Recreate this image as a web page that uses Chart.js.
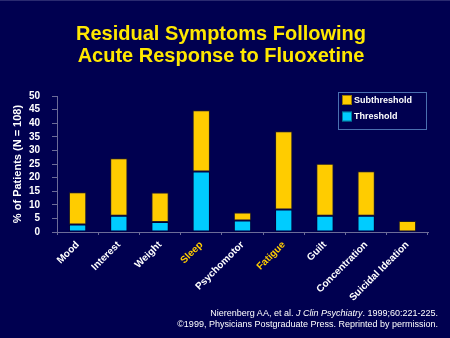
<!DOCTYPE html>
<html>
<head>
<meta charset="utf-8">
<script src="https://cdn.jsdelivr.net/npm/chart.js@4.4.1/dist/chart.umd.min.js"></script>
<style>
  html, body { margin: 0; padding: 0; background: #000050; }
  #wrap { position: relative; width: 450px; height: 338px; overflow: hidden; background: #000050; border-top: 1px solid #2a2a70; box-sizing: border-box; }
  #title { position: absolute; left: 0; width: 442px; top: 22px; text-align: center; color: #FFE800;
           font: bold 20px Arial, "Liberation Sans", sans-serif; line-height: 21.5px; }
  #footer { position: absolute; right: 12px; top: 307px; text-align: right; color: #ffffff;
            font: 9px Arial, "Liberation Sans", sans-serif; line-height: 11px; }
  canvas { position: absolute; left: 0; top: 0; }
</style>
</head>
<body>
<div id="wrap">
  <canvas id="c" width="450" height="338"></canvas>
  <div id="title">Residual Symptoms Following<br>Acute Response to Fluoxetine</div>
  <div id="footer">Nierenberg AA, et al. <i>J Clin Psychiatry</i>. 1999;60:221-225.<br>©1999, Physicians Postgraduate Press. Reprinted by permission.</div>
</div>
<script>
const categories = ['Mood', 'Interest', 'Weight', 'Sleep', 'Psychomotor', 'Fatigue', 'Guilt', 'Concentration', 'Suicidal Ideation'];
const highlighted = ['Sleep', 'Fatigue'];
const threshold = [2.8, 6.0, 3.7, 22.2, 4.2, 8.3, 6.0, 6.0, 0];
const subthreshold = [11.8, 21.1, 10.8, 22.6, 3.0, 28.7, 19.1, 16.3, 4.0];
const yTicks = [0, 5, 10, 15, 20, 25, 30, 35, 40, 45, 50];
const seriesNames = ['Threshold', 'Subthreshold'];
const yTitle = '% of Patients (N = 108)';

const FONT = 'Arial, "Liberation Sans", sans-serif';
const AXIS = '#6c6c98';

const boxLegend = {
  id: 'boxLegend',
  afterDraw(chart) {
    const ctx = chart.ctx;
    const x = 338, y = 91, w = 88, h = 37;
    ctx.save();
    ctx.strokeStyle = '#4a6fb0';
    ctx.lineWidth = 1;
    ctx.strokeRect(x + 0.5, y + 0.5, w, h);
    const ds = chart.data.datasets.slice().reverse();
    ctx.font = 'bold 9px ' + FONT;
    ctx.textBaseline = 'middle';
    ds.forEach((d, i) => {
      const sy = y + 3 + i * 16.5;
      ctx.fillStyle = d.backgroundColor;
      ctx.fillRect(x + 4, sy, 10, 10);
      ctx.strokeStyle = 'rgba(0,0,0,0.4)';
      ctx.strokeRect(x + 4.5, sy + 0.5, 9, 9);
      ctx.fillStyle = '#ffffff';
      ctx.fillText(d.label, x + 16, sy + 5.5);
    });
    ctx.restore();
  }
};

new Chart(document.getElementById('c'), {
  type: 'bar',
  data: {
    labels: categories,
    datasets: [
      { label: seriesNames[0], data: threshold, backgroundColor: '#00CCFF', borderColor: 'rgba(0,0,0,0.35)', borderWidth: 1, borderSkipped: false },
      { label: seriesNames[1], data: subthreshold, backgroundColor: '#FFCC00', borderColor: 'rgba(60,50,0,0.6)', borderWidth: 1, borderSkipped: false }
    ]
  },
  options: {
    responsive: false,
    animation: false,
    devicePixelRatio: 1,
    layout: { padding: { top: 95, right: 22, bottom: 0, left: 0 } },
    plugins: { legend: { display: false }, tooltip: { enabled: false }, title: { display: false } },
    datasets: { bar: { barPercentage: 0.42, categoryPercentage: 1.0 } },
    scales: {
      x: {
        stacked: true,
        afterFit(s) { s.height = 107; },
        border: { color: AXIS, width: 1 },
        grid: { display: true, drawOnChartArea: false, drawTicks: true, tickLength: 3, color: AXIS, offset: true },
        ticks: {
          minRotation: 45, maxRotation: 45, padding: 4, autoSkip: false,
          font: { family: FONT, size: 10, weight: 'bold' },
          color: (c) => highlighted.includes(categories[c.index]) ? '#FFCC00' : '#ffffff'
        }
      },
      y: {
        stacked: true, min: 0, max: 50,
        afterFit(s) { s.width = 57; },
        afterBuildTicks(s) { s.ticks = yTicks.map(v => ({ value: v })); },
        border: { color: AXIS, width: 1 },
        grid: { display: true, drawOnChartArea: false, drawTicks: true, tickLength: 5, color: AXIS },
        ticks: { autoSkip: false, padding: 12, color: '#ffffff', font: { family: FONT, size: 10, weight: 'bold' } },
        title: { display: true, text: yTitle, color: '#ffffff', font: { family: FONT, size: 11, weight: 'bold' }, padding: { top: 11, bottom: 0 } }
      }
    }
  },
  plugins: [boxLegend]
});
</script>
</body>
</html>
